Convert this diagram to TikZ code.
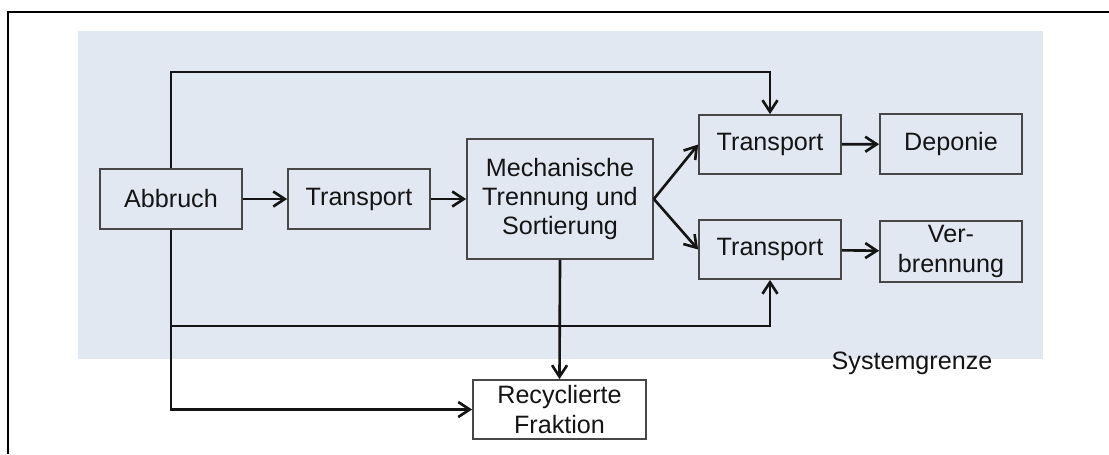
\documentclass[tikz,border=0pt]{standalone}
\usepackage{fontspec}
\setmainfont{Liberation Sans}
\usepackage{xcolor}
\usepackage{tikz}
\usetikzlibrary{calc,arrows.meta}
\definecolor{sysbg}{HTML}{E2E8F1}
\definecolor{edge}{HTML}{474747}
\definecolor{ink}{HTML}{141414}
\tikzset{
  box/.style={draw=edge, fill=sysbg, line width=1pt, inner sep=0pt, minimum width=2.84cm, minimum height=1.2cm, align=center, text=ink, font=\fontsize{14.3}{16.6}\selectfont},
  flow/.style={draw=ink, line width=1.5pt, line join=miter, -{Straight Barb[length=2.3mm,width=3mm,line width=1.5pt]}},
  frame/.style={draw=black, line width=1.4pt},
  lab/.style={text=ink, font=\fontsize{14.3}{16.6}\selectfont},
}
\begin{document}
\begin{tikzpicture}[x=0.02cm,y=-0.02cm]
  \useasboundingbox (0,0) rectangle (1109,454);
  % frame and system boundary
  \draw[frame] (8,454) -- (8,12) -- (1109,12);
  \fill[sysbg] (78,31) rectangle (1043,359);
  \node[lab] (sysg) at (912,363) {Systemgrenze};
  % process boxes
  \node[box] (abbruch) at (171,199) {Abbruch};
  \node[box] (transA) at (359,199) {Transport};
  \node[box, minimum width=3.72cm, minimum height=2.4cm] (mech) at (560,199) {Mechanische\\Trennung und\\Sortierung};
  \node[box, minimum height=1.18cm] (transB) at (770,144.5) {Transport};
  \node[box] (depo) at (951,144) {Deponie};
  \node[box, minimum height=1.18cm] (transC) at (770,249.5) {Transport};
  \node[box, minimum height=1.22cm] (verbr) at (951,251.5) {Ver-\\brennung};
  \node[box, fill=white, minimum width=3.46cm, minimum height=1.18cm] (recyc) at (559.5,409.5) {Recyclierte\\Fraktion};
  \coordinate (topy) at (0,72);
  \coordinate (boty) at (0,326);
  % flows
  \draw[flow] (abbruch) -- (transA);
  \draw[flow] (transA) -- (mech);
  \draw[flow] (mech.east) -- (transB.west);
  \draw[flow] (mech.east) -- (transC.west);
  \draw[flow] (transB) -- (depo);
  \draw[flow] (transC) -- (verbr);
  \draw[flow] (abbruch.north) -- (abbruch.north |- topy) -| (transB.north);
  \draw[flow] (abbruch.south) |- (recyc.west);
  \draw[flow] (abbruch.south |- boty) -| (transC.south);
  \draw[flow] (mech.south) -- (recyc.north);
\end{tikzpicture}
\end{document}
